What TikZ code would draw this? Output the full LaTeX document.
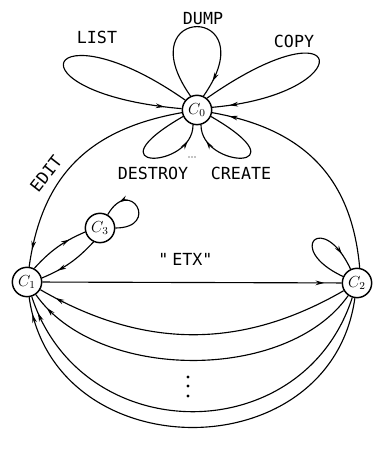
\documentclass[tikz,border=0pt]{standalone}
\usepackage{fontspec}
\setmainfont{Liberation Sans}
\newfontfamily\plotfont{DejaVu Sans Mono}
\usetikzlibrary{arrows.meta,decorations.markings}
\tikzset{
  state/.style={circle,draw,line width=1.1pt,minimum size=22pt,inner sep=0pt,fill=white,font=\fontsize{12}{14}\selectfont},
  tag/.style={font=\plotfont\fontsize{12.5}{14}\selectfont,inner sep=0pt},
  arr/.style={postaction={decorate},decoration={markings,mark=at position -13pt with {\arrow{Stealth[length=6.5pt,width=3.5pt]}}}}
}
\begin{document}
\begin{tikzpicture}[x=0.75pt,y=0.75pt,line width=0.85pt]
\useasboundingbox (0,0) rectangle (372,449);
\node[state] (c0) at (197,339) {$C_0$};
\node[state] (c1) at (27,167) {$C_1$};
\node[state] (c2) at (357,166) {$C_2$};
\node[state] (c3) at (100,221) {$C_3$};
\draw[arr] (c0.140) .. controls +(145:170) and +(175:180) .. (c0.175);
\draw[arr] (c0.115) .. controls +(125:113) and +(55:113) .. (c0.65);
\draw[arr] (c0.50) .. controls +(35:175) and +(5:150) .. (c0.10);
\draw[arr] (c0.205) .. controls +(210:110) and +(270:45) .. (c0.255);
\draw[arr] (c0.335) .. controls +(330:110) and +(270:45) .. (c0.285);
\foreach \x in {189,192,195} \fill (\x,292) circle (0.5pt);
\node[tag] (list) at (97,412) {LIST};
\node[tag] (dump) at (203,430) {DUMP};
\node[tag] (copy) at (294,408) {COPY};
\node[tag] (destroy) at (153,276) {DESTROY};
\node[tag] (create) at (241,276) {CREATE};
\draw[arr] (c0) to[out=190,in=82,looseness=1.1] (c1);
\node[tag,rotate=52] (edit) at (46,275) {EDIT};
\draw[arr] (c2.80) to[out=95,in=-10,looseness=1.1] (c0);
\draw[arr] (c1.62) to[bend left=12] (c3.195);
\draw[arr] (c3.245) to[bend left=12] (c1.15);
\draw[arr] (c3) to[out=0,in=60,distance=34pt] (c3);
\draw[arr] (c2) to[out=155,in=115,distance=49pt] (c2);
\draw[arr] (c1) -- (c2) node[tag,midway,above=12pt,xshift=-5pt] (etx) {"\hspace{3pt}ETX"};
\draw[arr] (c2) to[out=-150,in=-30,looseness=1] (c1);
\draw[arr] (c2) to[out=-125,in=-55,looseness=0.87] (c1);
\draw[arr] (c2) to[out=-108,in=-72,looseness=1.28] (c1);
\draw[arr] (c2) to[out=-98,in=-82,looseness=1.37] (c1);
\foreach \y in {53,63,72} \fill (188,\y) circle (1.3pt);
\end{tikzpicture}
\end{document}
